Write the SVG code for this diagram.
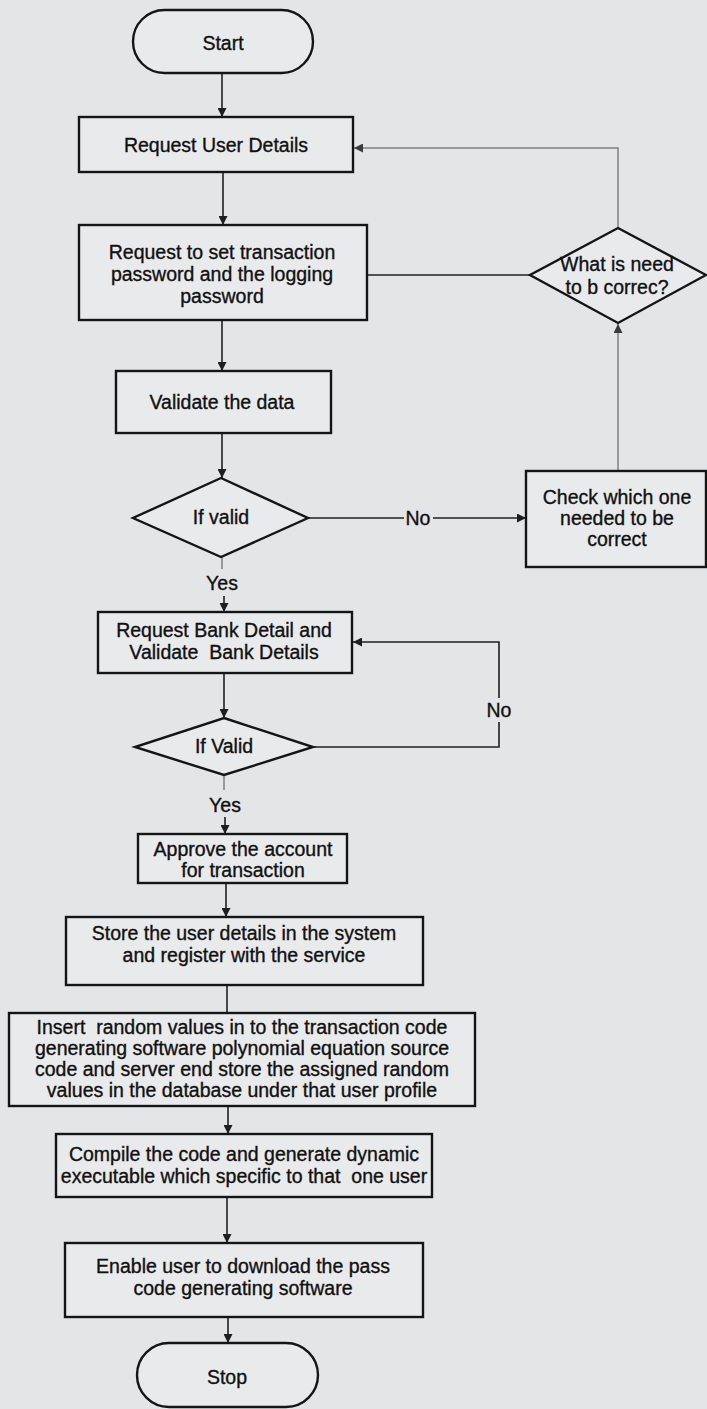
<svg xmlns="http://www.w3.org/2000/svg" width="707" height="1409" viewBox="0 0 707 1409">
<defs>
<marker id="ah" viewBox="0 0 10 10" refX="10" refY="5" markerWidth="9" markerHeight="9" markerUnits="userSpaceOnUse" orient="auto">
<path d="M0,0 L10,5 L0,10 z" fill="#1e1e1e"/>
</marker>
<marker id="ahg" viewBox="0 0 10 10" refX="10" refY="5" markerWidth="9" markerHeight="9" markerUnits="userSpaceOnUse" orient="auto">
<path d="M0,0 L10,5 L0,10 z" fill="#3a3a3a"/>
</marker>
<style>
.box{fill:#e9eaec;stroke:#151515;stroke-width:2.4}
.t{font-family:"Liberation Sans",Arial,sans-serif;font-size:19.5px;fill:#111;stroke:#111;stroke-width:0.35;text-anchor:middle;white-space:pre}
.c{fill:none;stroke:#202020;stroke-width:1.6}
.g{fill:none;stroke:#808080;stroke-width:1.5}
</style>
</defs>
<rect x="0" y="0" width="707" height="1409" fill="#e4e5e7"/>

<g id="connectors">
<line class="c" x1="222" y1="73" x2="222" y2="117" marker-end="url(#ah)"/>
<line class="c" x1="223" y1="172" x2="223" y2="225" marker-end="url(#ah)"/>
<line class="c" x1="222" y1="320" x2="222" y2="371" marker-end="url(#ah)"/>
<line class="c" x1="222" y1="433" x2="222" y2="478" marker-end="url(#ah)"/>
<line class="g" x1="222" y1="557" x2="222" y2="569"/>
<line class="c" x1="224" y1="596" x2="224" y2="612" marker-end="url(#ah)"/>
<line class="c" x1="308" y1="518" x2="404" y2="518"/>
<line class="c" x1="433" y1="518" x2="526" y2="518" marker-end="url(#ah)"/>
<line class="g" x1="618" y1="471" x2="618" y2="324" marker-end="url(#ahg)"/>
<polyline class="g" points="618,228 618,148 354,148" marker-end="url(#ahg)"/>
<line class="c" x1="530" y1="275" x2="367" y2="275"/>
<line class="c" x1="224" y1="673" x2="224" y2="718" marker-end="url(#ah)"/>
<polyline class="c" points="313,747 499,747 499,722"/>
<polyline class="c" points="499,698 499,642 353,642" marker-end="url(#ah)"/>
<line class="g" x1="224" y1="775" x2="224" y2="790"/>
<line class="c" x1="225" y1="817" x2="225" y2="834" marker-end="url(#ah)"/>
<line class="c" x1="226" y1="883" x2="226" y2="917" marker-end="url(#ah)"/>
<line class="c" x1="227" y1="985" x2="227" y2="1013"/>
<line class="c" x1="228" y1="1106" x2="228" y2="1134" marker-end="url(#ah)"/>
<line class="c" x1="227" y1="1197" x2="227" y2="1243" marker-end="url(#ah)"/>
<line class="c" x1="228" y1="1317" x2="228" y2="1343" marker-end="url(#ah)"/>
<text class="t" x="222" y="590">Yes</text>
<text class="t" x="418" y="525">No</text>
<text class="t" x="499" y="717">No</text>
<text class="t" x="225" y="812">Yes</text>
</g>

<g id="start">
<rect class="box" x="133" y="10" width="180" height="63" rx="31.5"/>
<text class="t" x="223" y="50">Start</text>
</g>
<g id="request-user-details">
<rect class="box" x="79" y="117" width="274" height="55"/>
<text class="t" x="216" y="152">Request User Details</text>
</g>
<g id="request-passwords">
<rect class="box" x="79" y="225" width="288" height="95"/>
<text class="t" x="222" y="259">Request to set transaction</text>
<text class="t" x="222" y="281">password and the logging</text>
<text class="t" x="222" y="303">password</text>
</g>
<g id="validate-data">
<rect class="box" x="116" y="371" width="215" height="62"/>
<text class="t" x="222" y="409">Validate the data</text>
</g>
<g id="if-valid-1">
<polygon class="box" points="221,478 308,518 221,557 133,518"/>
<text class="t" x="221" y="524">If valid</text>
</g>
<g id="check-which">
<rect class="box" x="526" y="471" width="180" height="96"/>
<text class="t" x="617" y="504">Check which one</text>
<text class="t" x="617" y="525">needed to be</text>
<text class="t" x="617" y="546">correct</text>
</g>
<g id="what-to-correct">
<polygon class="box" points="618,228 706,275 618,323 530,275"/>
<text class="t" x="617" y="271">What is need</text>
<text class="t" x="617" y="294">to b correc?</text>
</g>
<g id="request-bank">
<rect class="box" x="98" y="612" width="254" height="61"/>
<text class="t" x="224" y="637">Request Bank Detail and</text>
<text class="t" x="224" y="659" xml:space="preserve">Validate  Bank Details</text>
</g>
<g id="if-valid-2">
<polygon class="box" points="224,718 313,747 224,775 135,747"/>
<text class="t" x="224" y="753">If Valid</text>
</g>
<g id="approve">
<rect class="box" x="138" y="834" width="209" height="49"/>
<text class="t" x="243" y="856">Approve the account</text>
<text class="t" x="243" y="877">for transaction</text>
</g>
<g id="store">
<rect class="box" x="66" y="917" width="357" height="68"/>
<text class="t" x="244" y="940">Store the user details in the system</text>
<text class="t" x="244" y="962">and register with the service</text>
</g>
<g id="insert">
<rect class="box" x="9" y="1013" width="466" height="93"/>
<text class="t" x="242" y="1034" xml:space="preserve">Insert  random values in to the transaction code</text>
<text class="t" x="242" y="1055">generating software polynomial equation source</text>
<text class="t" x="242" y="1076">code and server end store the assigned random</text>
<text class="t" x="242" y="1097">values in the database under that user profile</text>
</g>
<g id="compile">
<rect class="box" x="56" y="1134" width="376" height="63"/>
<text class="t" x="244" y="1161">Compile the code and generate dynamic</text>
<text class="t" x="244" y="1183" xml:space="preserve">executable which specific to that  one user</text>
</g>
<g id="enable">
<rect class="box" x="65" y="1243" width="358" height="74"/>
<text class="t" x="243" y="1273">Enable user to download the pass</text>
<text class="t" x="243" y="1295">code generating software</text>
</g>
<g id="stop">
<rect class="box" x="137" y="1343" width="181" height="64" rx="32"/>
<text class="t" x="227" y="1384">Stop</text>
</g>
</svg>
